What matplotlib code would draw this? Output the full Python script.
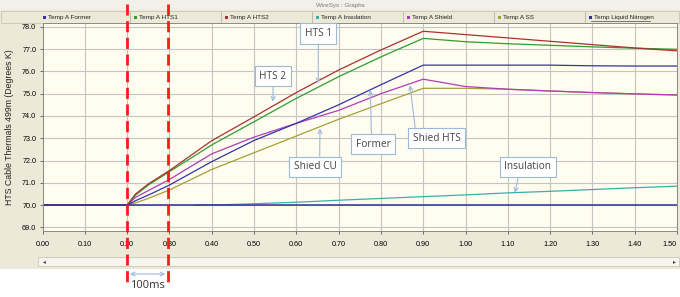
import matplotlib
matplotlib.use('Agg')
import matplotlib.pyplot as plt
import matplotlib.transforms as mtrans
from matplotlib.patches import Rectangle, FancyArrowPatch
from matplotlib.lines import Line2D

# ---- data ----
time = [0.0, 0.2, 0.22, 0.25, 0.3, 0.4, 0.5, 0.6, 0.7, 0.8, 0.9, 1.0, 1.1, 1.2, 1.3, 1.4, 1.5]
hts2 = [70.0, 70.0, 70.5, 70.95, 71.55, 72.89, 73.96, 75.05, 76.06, 76.96, 77.8, 77.65, 77.5, 77.35, 77.2, 77.05, 76.92]
hts1 = [70.0, 70.0, 70.45, 70.9, 71.5, 72.7, 73.74, 74.79, 75.76, 76.65, 77.48, 77.33, 77.24, 77.17, 77.1, 77.04, 76.99]
former = [70.0, 70.0, 70.2, 70.45, 70.9, 71.95, 72.9, 73.67, 74.5, 75.4, 76.28, 76.28, 76.28, 76.28, 76.25, 76.24, 76.24]
shield = [70.0, 70.0, 70.35, 70.65, 71.15, 72.3, 73.05, 73.67, 74.25, 75.0, 75.65, 75.32, 75.2, 75.12, 75.05, 74.99, 74.94]
ss = [70.0, 70.0, 70.1, 70.3, 70.68, 71.6, 72.35, 73.1, 73.85, 74.55, 75.24, 75.24, 75.2, 75.12, 75.05, 74.99, 74.94]
ins_time = [0.36, 0.45, 0.6, 0.7, 0.8, 0.9, 1.0, 1.1, 1.2, 1.3, 1.4, 1.5]
insulation = [70.0, 70.03, 70.13, 70.22, 70.3, 70.38, 70.46, 70.55, 70.62, 70.7, 70.78, 70.85]
n2_time = [0.0, 1.5]
nitrogen = [70.0, 70.0]

legend_names = ['Temp A Former', 'Temp A HTS1', 'Temp A HTS2', 'Temp A Insulation',
                'Temp A Shield', 'Temp A SS', 'Temp Liquid Nitrogen']
colors = ['#3434A8', '#2E9E2E', '#A83232', '#3AAFA9', '#B03CB8', '#A6A035', '#30309C']

W, H = 680, 297
fig = plt.figure(figsize=(6.8, 2.97), dpi=100)
fig.patch.set_facecolor('white')


def fx(px):
    return px / W


def fy(py):
    return 1 - py / H


def rect(x0, y0, x1, y1, z, **kw):
    fig.patches.append(Rectangle((fx(x0), fy(y1)), fx(x1) - fx(x0), fy(y0) - fy(y1),
                                 transform=fig.transFigure, zorder=z, **kw))


# window panel
rect(0, 0, 680, 269, -5, fc='#ECE9D8', ec='none')
rect(0, 0, 680, 10, -4, fc='#F2F0E8', ec='none')
fig.text(fx(340), fy(5), 'WireSys : Graphs', fontsize=4.5, color='#777777',
         ha='center', va='center', family='Liberation Sans')

# legend strip
rect(1, 11, 679, 23, -3, fc='#ECE9D8', ec='#C9C6B6', lw=0.6)
leg_x = [43, 134, 225, 316, 407, 498, 589]
for i, (name, c) in enumerate(zip(legend_names, colors)):
    x0 = leg_x[i]
    fig.patches.append(Rectangle((fx(x0), fy(19)), 3 / W, 3 / H, transform=fig.transFigure,
                                 fc=c, ec='none', zorder=2))
    fig.text(fx(x0 + 5), fy(17), name, fontsize=4.6, color='#222222', va='center',
             family='Liberation Sans', zorder=2)
    if i > 0:
        fig.add_artist(Line2D([fx(x0 - 4)] * 2, [fy(12), fy(22)], color='#B8B5A6', lw=0.6))
fig.add_artist(Line2D([fx(591), fx(650)], [fy(20.5)] * 2, color='#222222', lw=0.4))

# scrollbar
rect(38, 257, 679, 266, -3, fc='#F6F5EE', ec='#C9C7BA', lw=0.6)
fig.text(fx(44), fy(261.5), '◂', fontsize=4, color='#333333', ha='center', va='center')
fig.text(fx(674), fy(261.5), '▸', fontsize=4, color='#333333', ha='center', va='center')

# plot area
ax = fig.add_axes([fx(42.5), fy(231), fx(677) - fx(42.5), fy(23) - fy(231)])
ax.set_zorder(1)
ax.set_facecolor('#FFFCF0')
ax.set_xlim(0, 1.5)
ax.set_ylim(68.84, 78.17)
ax.set_xticks([i / 10 for i in range(16)])
ax.set_xticklabels(['%.2f' % (i / 10) for i in range(16)])
ax.set_yticks(range(69, 79))
ax.set_yticklabels(['%.1f' % v for v in range(69, 79)])
ax.tick_params(labelsize=5.2, length=2.5, width=0.6, color='#555555', pad=2)
ax.tick_params(axis='x', pad=5)
for lab in ax.get_xticklabels() + ax.get_yticklabels():
    lab.set_family('Liberation Sans')
ax.get_xticklabels()[-1].set_ha('right')
ax.grid(True, color='#C4C4C0', lw=0.8)
ax.set_axisbelow(True)
for s in ax.spines.values():
    s.set_color('#8A8A80')
    s.set_linewidth(0.7)
ax.set_ylabel('HTS Cable Thermals 499m (Degrees K)', fontsize=6.3, family='Liberation Sans',
              color='#222222', labelpad=6)

ax.plot(time, ss, color=colors[5], lw=0.9)
ax.plot(time, shield, color=colors[4], lw=0.9)
ax.plot(time, former, color=colors[0], lw=0.9)
ax.plot(time, hts1, color=colors[1], lw=0.9)
ax.plot(time, hts2, color=colors[2], lw=0.9)
ax.plot(ins_time, insulation, color=colors[3], lw=0.9)
ax.plot(n2_time, nitrogen, color=colors[6], lw=1.1)

# call-out boxes
box = dict(boxstyle='square,pad=0.45', fc='white', ec='#9DB9D9', lw=0.8)
arr = dict(arrowstyle='->', color='#9DB9D9', lw=0.8, shrinkA=0, shrinkB=0)
notes = [
    ('HTS 1', (0.652, 77.70), (0.652, 75.47), (0.5, 0)),
    ('HTS 2', (0.545, 75.79), (0.545, 74.64), (0.5, 0)),
    ('Shied CU', (0.645, 71.73), (0.656, 73.44), (0.6, 1)),
    ('Former', (0.782, 72.74), (0.775, 75.16), (0.45, 1)),
    ('Shied HTS', (0.932, 73.01), (0.869, 75.38), (0.06, 1)),
    ('Insulation', (1.147, 71.73), (1.117, 70.55), (0.32, 0)),
]
for txt, tpos, tip, rp in notes:
    a = dict(arr)
    a['relpos'] = rp
    ax.annotate(txt, xy=tip, xytext=tpos, ha='center', va='center', fontsize=7.3,
                family='Open Sans', color='#444444', bbox=box, arrowprops=a)

# red markers for the 100 ms window
trans = mtrans.blended_transform_factory(ax.transData, fig.transFigure)
for xv in [0.2, 0.297]:
    ln = Line2D([xv, xv], [fy(4), fy(282)], transform=trans, color='#FF1A1A',
                lw=2.0, ls=(0, (4, 2)), clip_on=False, zorder=10)
    fig.add_artist(ln)
fig.add_artist(FancyArrowPatch((0.2, fy(274)), (0.297, fy(274)), transform=trans,
                               arrowstyle='<->', mutation_scale=7, color='#9DB9D9', lw=0.8,
                               shrinkA=2, shrinkB=2))
fig.text(fx(147), fy(286), '100ms', fontsize=8, family='Open Sans', color='#333333',
         ha='center', va='center')

fig.savefig('out.png', dpi=100)
